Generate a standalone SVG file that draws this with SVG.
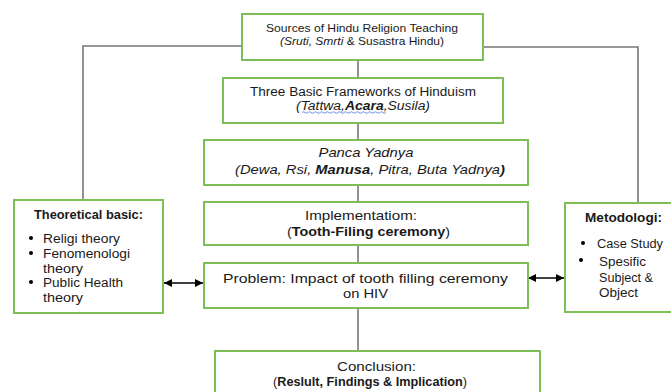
<svg xmlns="http://www.w3.org/2000/svg" width="671" height="392" viewBox="0 0 671 392">
<defs>
<marker id="ah" viewBox="0 0 10 10" refX="10" refY="5" markerWidth="9" markerHeight="8" markerUnits="userSpaceOnUse" orient="auto-start-reverse">
<path d="M0,0 L10,5 L0,10 z" fill="#000"/>
</marker>
</defs>
<style>
.box{fill:#fff;stroke:#7dbf55;stroke-width:2}
.ln{fill:none;stroke:#777;stroke-width:1.6}
.arr{fill:none;stroke:#000;stroke-width:1.5}
text{font-family:"Liberation Sans",Arial,sans-serif;fill:#1a1a1a}
.c{text-anchor:middle}
.i{font-style:italic}
.b{font-weight:bold}
</style>
<rect width="671" height="392" fill="#fff"/>
<g id="connectors">
<path class="ln" d="M242,46 H83 V200"/>
<path class="ln" d="M483,47 H638 V203"/>
<path class="ln" d="M358,60 V78"/>
<path class="ln" d="M358,123 V140"/>
<path class="ln" d="M358,185 V202"/>
<path class="ln" d="M358,245 V263"/>
<path class="ln" d="M358,308 V351"/>
<path class="arr" d="M164,283 H203" marker-start="url(#ah)" marker-end="url(#ah)"/>
<path class="arr" d="M528,278 H564" marker-start="url(#ah)" marker-end="url(#ah)"/>
</g>
<g id="sources">
<rect class="box" x="242" y="14" width="241" height="46"/>
<text class="c" x="362" y="31.5" font-size="11" textLength="192" lengthAdjust="spacingAndGlyphs">Sources of Hindu Religion Teaching</text>
<text class="c" x="362" y="44.5" font-size="11" textLength="164" lengthAdjust="spacingAndGlyphs"><tspan class="i">(Sruti, Smrti</tspan> &amp; Susastra Hindu)</text>
</g>
<g id="frameworks">
<rect class="box" x="223" y="78" width="280" height="45"/>
<text class="c" x="363" y="95.5" font-size="12" textLength="226" lengthAdjust="spacingAndGlyphs">Three Basic Frameworks of Hinduism</text>
<text class="c i" x="363" y="109.5" font-size="12" textLength="134" lengthAdjust="spacingAndGlyphs">(Tattwa,<tspan class="b">Acara</tspan>,Susila)</text>
<path d="M302,112.5 q1.5,-1.5 3,0 t3,0 t3,0 t3,0 t3,0 t3,0 t3,0 t3,0 t3,0 t3,0 t3,0 t3,0 t3,0 t3,0 t3,0 t3,0 t3,0 t3,0 t3,0 t3,0 t3,0 t3,0 t3,0 t3,0 t3,0 t3,0 t3,0 t3,0" fill="none" stroke="#4a74d9" stroke-width="0.8"/>
</g>
<g id="panca">
<rect class="box" x="204" y="140" width="324" height="45"/>
<text class="c i" x="366" y="157" font-size="13.5" textLength="95" lengthAdjust="spacingAndGlyphs">Panca Yadnya</text>
<text class="c i" x="370" y="173.5" font-size="13.5" textLength="270" lengthAdjust="spacingAndGlyphs">(Dewa, Rsi, <tspan class="b">Manusa</tspan>, Pitra, Buta Yadnya<tspan class="b">)</tspan></text>
</g>
<g id="implementation">
<rect class="box" x="204" y="202" width="324" height="43"/>
<text class="c" x="361" y="219.5" font-size="13" textLength="112" lengthAdjust="spacingAndGlyphs">Implementatiom:</text>
<text class="c" x="368.5" y="235.5" font-size="13" textLength="163" lengthAdjust="spacingAndGlyphs">(<tspan class="b">Tooth-Filing ceremony</tspan>)</text>
</g>
<g id="problem">
<rect class="box" x="204" y="263" width="324" height="45"/>
<text class="c" x="365.5" y="282.5" font-size="13" textLength="285" lengthAdjust="spacingAndGlyphs">Problem: Impact of tooth filling ceremony</text>
<text class="c" x="365.5" y="297.5" font-size="13" textLength="45" lengthAdjust="spacingAndGlyphs">on HIV</text>
</g>
<g id="theoretical">
<rect class="box" x="14" y="200" width="149" height="113"/>
<text class="b" x="34" y="218.5" font-size="12" textLength="109" lengthAdjust="spacingAndGlyphs">Theoretical basic:</text>
<g font-size="12">
<circle cx="31" cy="238" r="2"/>
<text x="43" y="242.5" textLength="77" lengthAdjust="spacingAndGlyphs">Religi theory</text>
<circle cx="31" cy="253" r="2"/>
<text x="43" y="257.5" textLength="87" lengthAdjust="spacingAndGlyphs">Fenomenologi</text>
<text x="43" y="272.5" textLength="40" lengthAdjust="spacingAndGlyphs">theory</text>
<circle cx="31" cy="282" r="2"/>
<text x="43" y="286.5" textLength="80" lengthAdjust="spacingAndGlyphs">Public Health</text>
<text x="43" y="301.5" textLength="40" lengthAdjust="spacingAndGlyphs">theory</text>
</g>
</g>
<g id="metodologi">
<rect class="box" x="565" y="203" width="110" height="109"/>
<text class="b" x="585" y="221.5" font-size="12" textLength="77" lengthAdjust="spacingAndGlyphs">Metodologi:</text>
<g font-size="12">
<circle cx="583" cy="243" r="2"/>
<text x="597" y="247.5" textLength="66" lengthAdjust="spacingAndGlyphs">Case Study</text>
<circle cx="581" cy="260" r="2"/>
<text x="599" y="265.5" textLength="47" lengthAdjust="spacingAndGlyphs">Spesific</text>
<text x="599" y="281.5" textLength="54" lengthAdjust="spacingAndGlyphs">Subject &amp;</text>
<text x="599" y="296.5" textLength="39" lengthAdjust="spacingAndGlyphs">Object</text>
</g>
</g>
<g id="conclusion">
<rect class="box" x="215" y="351" width="325" height="45"/>
<text class="c" x="376.5" y="370.5" font-size="12.5" textLength="79" lengthAdjust="spacingAndGlyphs">Conclusion:</text>
<text class="c" x="370" y="386" font-size="12.5" textLength="194" lengthAdjust="spacingAndGlyphs">(<tspan class="b">Reslult, Findings &amp; Implication</tspan>)</text>
</g>
</svg>
